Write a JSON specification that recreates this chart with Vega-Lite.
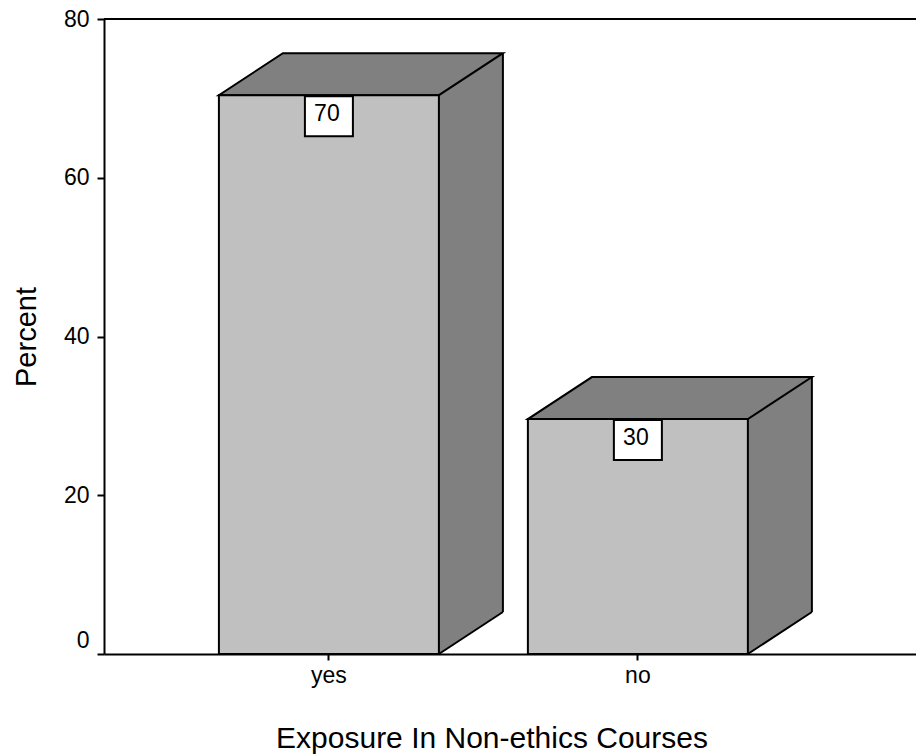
{
  "$schema": "https://vega.github.io/schema/vega-lite/v6.json",
  "width": 812,
  "height": 635,
  "autosize": "none",
  "padding": {"left": 104, "top": 19, "right": 0, "bottom": 102},
  "background": "white",
  "config": {"view": {"stroke": null}, "font": "Liberation Sans"},
  "data": {"values": [
    {"exposure": "yes", "percent": 70.4},
    {"exposure": "no", "percent": 29.6}
  ]},
  "layer": [
    {
      "encoding": {
        "x": {
          "field": "exposure", "type": "nominal", "sort": ["yes", "no"],
          "scale": {"type": "band", "paddingInner": 0.288, "paddingOuter": 0.458, "align": 0.406, "round": false},
          "axis": {
            "title": "Exposure In Non-ethics Courses",
            "titleFont": "Liberation Sans", "titleFontSize": 30, "titleFontWeight": "normal", "titleColor": "black",
            "titleX": 387.5, "titleY": 93, "titleAlign": "center", "titleBaseline": "alphabetic",
            "labelAngle": 0, "labelFont": "Liberation Sans", "labelFontSize": 23, "labelColor": "black", "labelPadding": 4,
            "tickSize": 6, "tickWidth": 2, "tickColor": "black",
            "domainColor": "black", "domainWidth": 2, "grid": false, "zindex": 1
          }
        },
        "y": {
          "field": "percent", "type": "quantitative",
          "scale": {"domain": [0, 80], "nice": false, "zero": true},
          "axis": {
            "values": [0, 20, 40, 60, 80],
            "title": "Percent",
            "titleFont": "Liberation Sans", "titleFontSize": 29, "titleFontWeight": "normal", "titleColor": "black",
            "titleX": -69, "titleY": 317.5, "titleAngle": -90, "titleAlign": "center", "titleBaseline": "alphabetic",
            "labelFont": "Liberation Sans", "labelFontSize": 23, "labelColor": "black", "labelPadding": 8,
            "labelFlush": false,
            "labelOffset": {"condition": {"test": "datum.value === 0", "value": -14}, "value": 0},
            "tickSize": 7, "tickWidth": 2, "tickColor": "black",
            "domainColor": "black", "domainWidth": 2, "grid": false, "zindex": 1
          }
        }
      },
      "layer": [
        {
          "mark": {"type": "bar", "fill": "#808080", "strokeWidth": 0, "width": 64, "xOffset": 142, "yOffset": -42},
          "encoding": {"y2": {"datum": 0}}
        },
        {
          "mark": {"type": "point", "shape": "M 110 0 L 174 -42 L 177 -42 L 177 2 L 110 2 Z", "size": 4, "filled": true, "fill": "white", "strokeWidth": 0, "opacity": 1},
          "encoding": {"y": {"datum": 0}}
        },
        {
          "mark": {"type": "point", "shape": "M -110 0 L 110 0 L 174 -42 L -46 -42 Z", "size": 4, "filled": true, "fill": "#808080", "stroke": "black", "strokeWidth": 2, "opacity": 1}
        },
        {
          "mark": {"type": "bar", "fill": "#c0c0c0", "stroke": "black", "strokeWidth": 2},
          "encoding": {"y2": {"datum": 0}}
        },
        {
          "mark": {"type": "rule", "stroke": "black", "strokeWidth": 2, "xOffset": 174, "yOffset": -42, "y2Offset": -42},
          "encoding": {"y2": {"datum": 0}}
        },
        {
          "mark": {"type": "point", "shape": "M 110 0 L 174 -42", "size": 4, "filled": false, "stroke": "black", "strokeWidth": 2, "opacity": 1},
          "encoding": {"y": {"datum": 0}}
        },
        {
          "mark": {"type": "point", "shape": "M -24 1 L 24 1 L 24 41 L -24 41 Z", "size": 4, "filled": true, "fill": "white", "stroke": "black", "strokeWidth": 2, "opacity": 1}
        },
        {
          "mark": {"type": "text", "dy": 26, "dx": -2, "baseline": "alphabetic", "align": "center", "font": "Liberation Sans", "fontSize": 23, "fill": "black"},
          "encoding": {"text": {"field": "percent", "type": "quantitative", "format": ".0f"}}
        }
      ]
    },
    {
      "data": {"values": [{}]},
      "mark": {"type": "rule", "stroke": "black", "strokeWidth": 2},
      "encoding": {"y": {"datum": 80}}
    }
  ]
}
